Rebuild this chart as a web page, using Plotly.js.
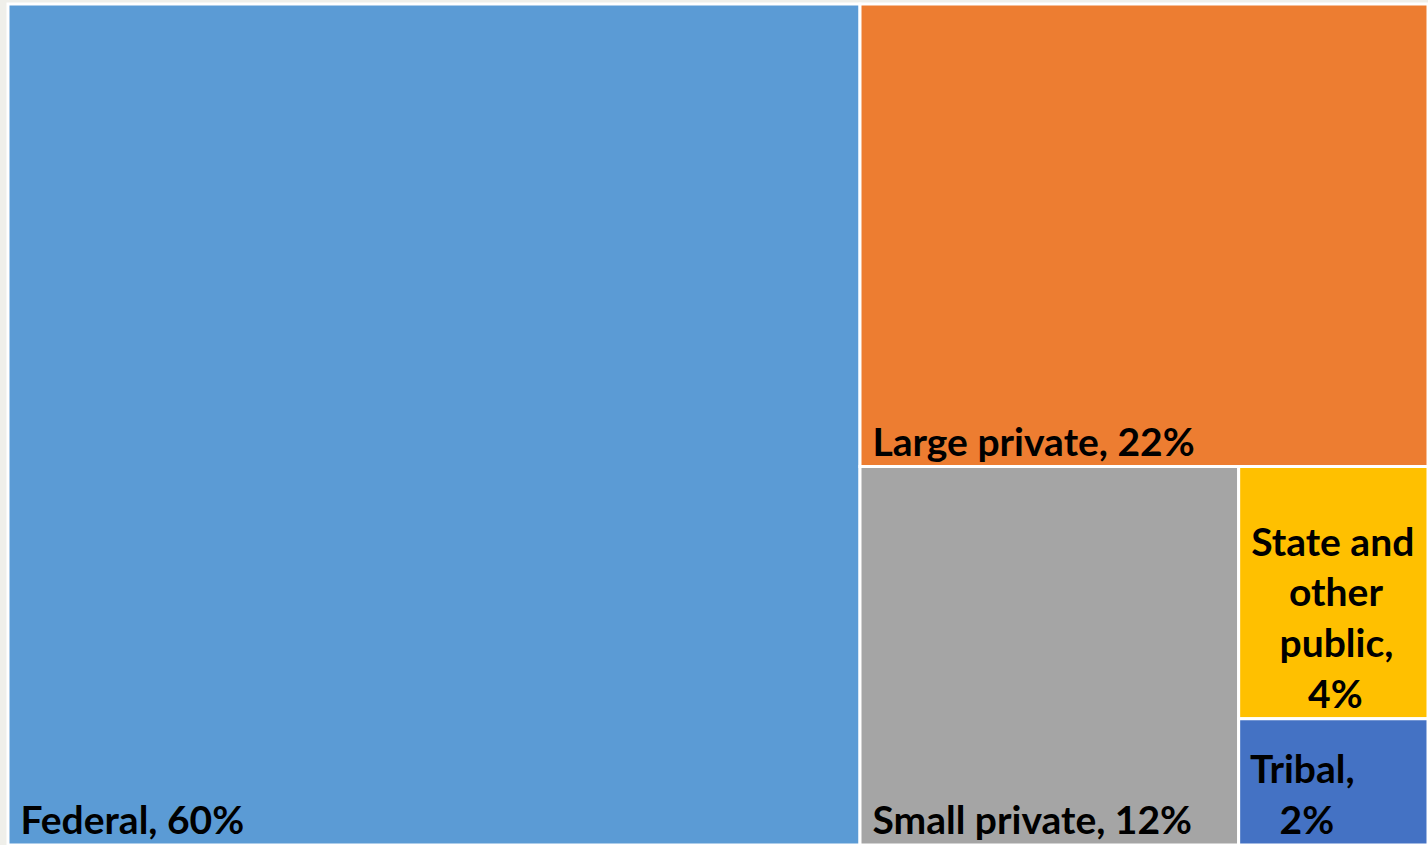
<!DOCTYPE html>
<html>
<head>
<meta charset="utf-8">
<script src="https://cdn.plot.ly/plotly-3.0.1.min.js"></script>
<style>html,body{margin:0;padding:0;background:#EFEFEA;}</style>
</head>
<body>
<div id="chart" style="width:1428px;height:845px;"></div>
<script>
const labels = ["Federal", "Large private", "Small private", "State and other public", "Tribal"];
const values = [60, 22, 12, 4, 2];
const S = "\u00A0";
const displayText = [
  S + "Federal, 60%",
  S + "Large private, 22%",
  S + "Small private, 12%",
  S + "State and<br>" + S.repeat(5) + "other<br>" + S.repeat(4) + "public,<br>" + S.repeat(7) + "4%",
  S + "Tribal,<br>" + S.repeat(4) + "2%"
];
const colors = ["#5B9BD5", "#ED7D31", "#A5A5A5", "#FFC000", "#4472C4"];

const trace = {
  type: "treemap",
  labels: labels,
  parents: labels.map(() => ""),
  values: values,
  text: displayText,
  texttemplate: "%{text}",
  textposition: "bottom left",
  sort: true,
  branchvalues: "total",
  tiling: {packing: "squarify", squarifyratio: 1, pad: 0},
  marker: {colors: colors, line: {color: "#FFFFFF", width: 3}, pad: {t: 0, l: 0, r: 0, b: 0}},
  pathbar: {visible: false},
  textfont: {family: "Lato, 'Open Sans', sans-serif", size: 39, color: "#000000", weight: 700},
  hoverinfo: "label+value"
};

const layout = {
  width: 1428,
  height: 845,
  margin: {l: 8, r: 0, t: 4, b: 0},
  paper_bgcolor: "#EFEFEA",
  showlegend: false
};

Plotly.newPlot("chart", [trace], layout, {displayModeBar: false, staticPlot: true});
</script>
</body>
</html>
